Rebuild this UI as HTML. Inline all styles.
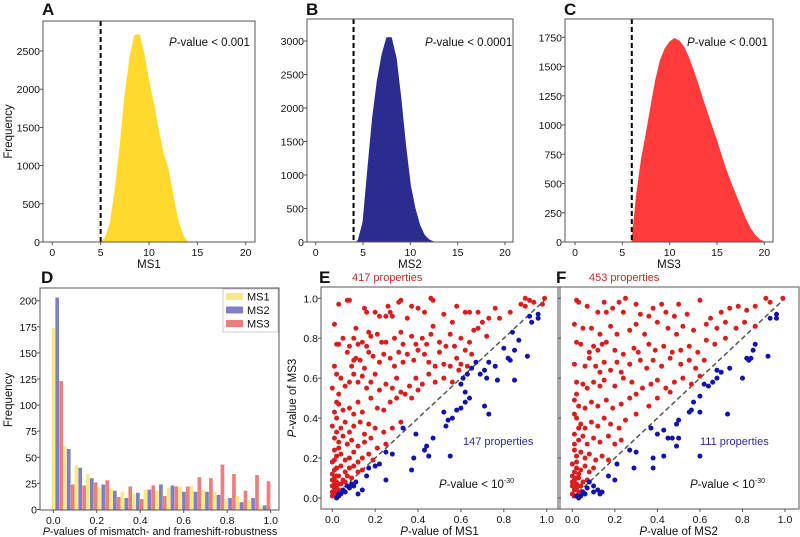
<!DOCTYPE html>
<html><head><meta charset="utf-8"><style>
html,body{margin:0;padding:0;background:#fff;}
svg{display:block;font-family:"Liberation Sans",Arial,sans-serif;}
</style></head><body>
<svg id="fig" width="800" height="537" viewBox="0 0 800 537"></svg>
<script>
// ---- Panel A/B/C data (distribution outlines) ----
const aX = [5,5.5,6,6.5,7,7.5,8,8.5,9,9.5,10,10.5,11,11.5,12,12.5,13,13.5,14];
const aY = [0,60,250,700,1250,1900,2400,2700,2720,2450,2100,1800,1450,1150,950,600,280,90,0];
const bX = [4.3,4.5,5,5.5,6,6.5,7,7.5,8,8.5,9,9.5,10,10.5,11,11.5,12,12.5];
const bY = [0,30,300,1100,1850,2400,2800,3050,3050,2750,2150,1450,850,500,250,100,30,0];
const cX = [6,6.5,7,7.5,8,8.5,9,9.5,10,10.5,11,11.5,12,12.5,13,13.5,14,14.5,15,15.5,16,16.5,17,17.5,18,18.5,19,19.5,20];
const cY = [0,400,700,920,1150,1380,1550,1650,1710,1740,1720,1670,1580,1470,1350,1220,1100,980,860,730,610,500,400,300,200,120,60,20,0];
const aTicksY = [0,500,1000,1500,2000,2500];
const bTicksY = [0,500,1000,1500,2000,2500,3000];
const cTicksY = [0,250,500,750,1000,1250,1500,1750];
const histTicksX = [0,5,10,15,20];
// ---- Panel D data ----
const dBins = [0,1,2,3,4,5,6,7,8,9,10,11,12,13,14,15,16,17,18];
const dMS1 = [174,61,42,34,21,20,17,15,19,18,21,22,23,19,17,10,13,9,3];
const dMS2 = [203,58,40,30,24,18,11,16,19,24,23,17,17,17,14,11,7,11,4];
const dMS3 = [123,24,23,26,28,12,22,10,23,13,22,22,31,30,43,34,18,33,27];
const dTicksY = [0,25,50,75,100,125,150,175,200];
const pTicks = [0,0.2,0.4,0.6,0.8,1.0];
// ---- Panel E data ----
const eRed = [[0.03,0.97],[0.07,0.99],[0.08,0.99],[0.32,0.99],[0.31,0.98],[0.46,1.0],[0.47,0.99],[0.43,0.93],[0.62,0.93],[0.64,0.93],[0.9,1.0],[0.92,0.99],[0.99,1.0],[0.94,0.98],[0.88,0.97],[0.15,0.95],[0.16,0.93],[0.26,0.96],[0.27,0.93],[0.25,0.91],[0.28,0.91],[0.37,0.96],[0.40,0.95],[0.58,0.96],[0.68,0.93],[0.76,0.95],[0.73,0.9],[0.83,0.93],[0.78,0.9],[0.9,0.96],[0.98,0.97],[0.22,0.91],[0.20,0.93],[0.35,0.9],[0.52,0.92],[0.56,0.88],[0.47,0.86],[0.01,0.87],[0.02,0.77],[0.03,0.77],[0.05,0.8],[0.11,0.85],[0.1,0.8],[0.12,0.77],[0.14,0.78],[0.16,0.76],[0.18,0.81],[0.17,0.83],[0.21,0.82],[0.23,0.78],[0.25,0.78],[0.29,0.8],[0.32,0.83],[0.33,0.77],[0.37,0.81],[0.39,0.77],[0.42,0.8],[0.44,0.77],[0.46,0.82],[0.5,0.78],[0.53,0.76],[0.55,0.82],[0.6,0.8],[0.66,0.84],[0.68,0.85],[0.7,0.88],[0.72,0.81],[0.64,0.78],[0.62,0.74],[0.57,0.76],[0.08,0.76],[0.07,0.73],[0.1,0.69],[0.09,0.66],[0.11,0.7],[0.13,0.69],[0.15,0.65],[0.17,0.73],[0.19,0.71],[0.22,0.68],[0.24,0.72],[0.27,0.7],[0.29,0.66],[0.31,0.73],[0.33,0.68],[0.35,0.72],[0.38,0.69],[0.40,0.74],[0.43,0.72],[0.45,0.68],[0.48,0.66],[0.5,0.73],[0.52,0.67],[0.55,0.66],[0.58,0.7],[0.6,0.67],[0.63,0.66],[0.65,0.72],[0.01,0.66],[0.02,0.62],[0.04,0.6],[0.06,0.56],[0.08,0.58],[0.1,0.62],[0.12,0.58],[0.14,0.61],[0.16,0.55],[0.18,0.58],[0.2,0.62],[0.22,0.54],[0.25,0.57],[0.28,0.55],[0.3,0.6],[0.32,0.53],[0.36,0.56],[0.39,0.6],[0.42,0.57],[0.45,0.62],[0.48,0.58],[0.52,0.6],[0.56,0.58],[0.59,0.64],[0.02,0.48],[0.03,0.47],[0.05,0.44],[0.08,0.45],[0.1,0.42],[0.12,0.48],[0.14,0.43],[0.18,0.5],[0.21,0.45],[0.24,0.44],[0.27,0.48],[0.3,0.5],[0.34,0.52],[0.37,0.5],[0.4,0.54],[0.02,0.4],[0.04,0.35],[0.06,0.38],[0.08,0.33],[0.1,0.36],[0.13,0.38],[0.15,0.32],[0.17,0.37],[0.2,0.35],[0.24,0.33],[0.28,0.35],[0.32,0.38],[0.01,0.3],[0.03,0.28],[0.05,0.31],[0.07,0.27],[0.09,0.29],[0.12,0.26],[0.15,0.28],[0.18,0.3],[0.21,0.25],[0.25,0.27],[0.01,0.24],[0.02,0.21],[0.04,0.22],[0.06,0.19],[0.08,0.2],[0.1,0.23],[0.12,0.18],[0.14,0.2],[0.17,0.22],[0.19,0.19],[0.0,0.18],[0.02,0.15],[0.04,0.16],[0.06,0.13],[0.08,0.15],[0.1,0.16],[0.12,0.13],[0.14,0.14],[0.0,0.12],[0.01,0.1],[0.02,0.08],[0.03,0.11],[0.05,0.09],[0.07,0.11],[0.09,0.1],[0.0,0.06],[0.01,0.05],[0.02,0.06],[0.03,0.04],[0.0,0.03],[0.01,0.02],[0.02,0.03],[0.0,0.01],[0.04,0.07],[0.06,0.08],[0.01,0.14],[0.02,0.11],[0.0,0.09],[0.01,0.07],[0.02,0.01],[0.03,0.07],[0.01,0.19],[0.03,0.25],[0.02,0.33],[0.0,0.36],[0.01,0.43],[0.03,0.52],[0.0,0.55]];
const eBlue = [[0.96,0.92],[0.96,0.9],[0.93,0.88],[0.92,0.91],[0.91,0.71],[0.85,0.59],[0.87,0.79],[0.84,0.83],[0.82,0.7],[0.8,0.75],[0.83,0.69],[0.85,0.74],[0.77,0.59],[0.76,0.66],[0.73,0.68],[0.71,0.64],[0.72,0.6],[0.69,0.62],[0.67,0.68],[0.65,0.65],[0.63,0.62],[0.61,0.6],[0.6,0.57],[0.62,0.53],[0.64,0.5],[0.62,0.48],[0.6,0.45],[0.58,0.44],[0.56,0.4],[0.54,0.39],[0.52,0.43],[0.53,0.36],[0.55,0.21],[0.71,0.46],[0.73,0.42],[0.47,0.3],[0.44,0.26],[0.43,0.24],[0.45,0.21],[0.39,0.32],[0.38,0.2],[0.37,0.14],[0.33,0.35],[0.28,0.22],[0.25,0.23],[0.25,0.09],[0.22,0.17],[0.2,0.16],[0.17,0.15],[0.16,0.11],[0.14,0.04],[0.12,0.02],[0.1,0.06],[0.08,0.05],[0.07,0.06],[0.06,0.03],[0.05,0.04],[0.04,0.02],[0.03,0.01],[0.02,0.0],[0.03,0.02],[0.09,0.07],[0.11,0.08]];
// ---- Panel F data ----
const fRed = [[0.02,0.99],[0.03,0.98],[0.07,0.96],[0.12,0.93],[0.15,0.98],[0.16,0.93],[0.19,0.95],[0.22,0.98],[0.25,1.0],[0.24,0.93],[0.3,0.97],[0.32,0.92],[0.36,0.91],[0.38,0.95],[0.42,0.97],[0.44,0.93],[0.5,0.97],[0.48,0.91],[0.54,0.92],[0.6,0.99],[0.65,0.9],[0.7,0.93],[0.74,0.95],[0.78,0.96],[0.82,0.94],[0.86,0.96],[0.91,1.0],[0.93,0.98],[0.99,1.0],[0.01,0.87],[0.05,0.85],[0.09,0.85],[0.13,0.82],[0.18,0.86],[0.21,0.82],[0.27,0.84],[0.3,0.87],[0.34,0.82],[0.4,0.88],[0.45,0.85],[0.49,0.82],[0.52,0.86],[0.57,0.84],[0.63,0.87],[0.68,0.85],[0.72,0.88],[0.77,0.85],[0.81,0.88],[0.86,0.86],[0.02,0.78],[0.04,0.77],[0.08,0.73],[0.1,0.76],[0.12,0.74],[0.14,0.77],[0.16,0.78],[0.2,0.74],[0.24,0.72],[0.29,0.75],[0.31,0.73],[0.36,0.77],[0.39,0.74],[0.43,0.76],[0.47,0.73],[0.51,0.74],[0.55,0.76],[0.59,0.73],[0.63,0.79],[0.67,0.77],[0.72,0.8],[0.01,0.67],[0.06,0.66],[0.08,0.7],[0.11,0.66],[0.13,0.63],[0.15,0.68],[0.18,0.64],[0.21,0.68],[0.23,0.63],[0.27,0.67],[0.32,0.69],[0.35,0.65],[0.38,0.69],[0.42,0.66],[0.46,0.7],[0.51,0.67],[0.55,0.69],[0.58,0.65],[0.62,0.69],[0.02,0.58],[0.05,0.57],[0.07,0.55],[0.1,0.58],[0.13,0.56],[0.15,0.59],[0.2,0.56],[0.24,0.6],[0.28,0.58],[0.33,0.55],[0.37,0.57],[0.4,0.59],[0.44,0.55],[0.48,0.58],[0.52,0.6],[0.56,0.57],[0.6,0.61],[0.01,0.49],[0.03,0.46],[0.06,0.45],[0.09,0.48],[0.12,0.46],[0.16,0.49],[0.19,0.45],[0.23,0.47],[0.27,0.5],[0.3,0.52],[0.36,0.46],[0.4,0.5],[0.46,0.53],[0.02,0.4],[0.04,0.37],[0.06,0.35],[0.09,0.38],[0.12,0.36],[0.15,0.4],[0.18,0.37],[0.22,0.35],[0.25,0.39],[0.3,0.42],[0.01,0.32],[0.03,0.29],[0.05,0.31],[0.07,0.27],[0.1,0.3],[0.13,0.28],[0.17,0.31],[0.2,0.27],[0.23,0.29],[0.01,0.24],[0.02,0.21],[0.04,0.23],[0.06,0.2],[0.08,0.22],[0.11,0.19],[0.14,0.21],[0.17,0.19],[0.0,0.17],[0.02,0.15],[0.04,0.14],[0.06,0.16],[0.08,0.13],[0.1,0.15],[0.0,0.11],[0.01,0.09],[0.03,0.1],[0.05,0.08],[0.07,0.09],[0.0,0.06],[0.01,0.04],[0.02,0.05],[0.03,0.03],[0.0,0.02],[0.01,0.01],[0.04,0.06],[0.01,0.13],[0.02,0.1],[0.0,0.08],[0.02,0.18],[0.01,0.27],[0.03,0.35],[0.01,0.42],[0.02,0.52],[0.03,0.12],[0.02,0.07]];
const fBlue = [[0.96,0.92],[0.93,0.9],[0.96,0.9],[0.92,0.71],[0.86,0.77],[0.85,0.74],[0.84,0.7],[0.82,0.7],[0.83,0.69],[0.8,0.6],[0.74,0.65],[0.7,0.63],[0.68,0.64],[0.68,0.6],[0.66,0.58],[0.64,0.56],[0.62,0.57],[0.6,0.51],[0.57,0.48],[0.56,0.44],[0.55,0.43],[0.6,0.43],[0.73,0.42],[0.5,0.39],[0.49,0.37],[0.5,0.3],[0.47,0.3],[0.49,0.26],[0.45,0.3],[0.43,0.34],[0.4,0.32],[0.37,0.35],[0.6,0.21],[0.43,0.21],[0.38,0.2],[0.38,0.15],[0.3,0.23],[0.27,0.24],[0.21,0.17],[0.2,0.09],[0.17,0.11],[0.14,0.03],[0.12,0.04],[0.13,0.02],[0.1,0.06],[0.08,0.08],[0.07,0.05],[0.06,0.02],[0.05,0.03],[0.04,0.01],[0.03,0.0],[0.02,0.01],[0.29,0.15],[0.1,0.03]];

const NS = 'http://www.w3.org/2000/svg';
const svg = document.getElementById('fig');
function mk(tag, attrs, parent) {
  const e = document.createElementNS(NS, tag);
  for (const k in attrs) e.setAttribute(k, attrs[k]);
  (parent || svg).appendChild(e);
  return e;
}
function txt(s, x, y, size, anchor, parent, extra) {
  const t = mk('text', Object.assign({x:x, y:y, 'font-size':size, 'text-anchor':anchor||'start', fill:'#111'}, extra||{}), parent);
  t.textContent = s;
  return t;
}
function lin(d0, d1, r0, r1) { return v => r0 + (v - d0) / (d1 - d0) * (r1 - r0); }

function frame(g, L, T, R, B) {
  const r = mk('rect', {x:L, y:T, width:R-L, height:B-T, fill:'none', stroke:'#555', 'stroke-width':1}, g);
  
  
}
function yTicks(g, ticks, sy, L, fmt) {
  ticks.forEach(v => {
    const y = sy(v);
    mk('line', {x1:L-3, x2:L, y1:y, y2:y, stroke:'#555'}, g);
    const t = txt(fmt ? fmt(v) : String(v), L-3, y+4, 10.5, 'end', g);
    
    
  });
}
function xTicks(g, ticks, sx, B, fmt) {
  ticks.forEach(v => {
    const x = sx(v);
    mk('line', {x1:x, x2:x, y1:B, y2:B+3, stroke:'#555'}, g);
    const t = txt(fmt ? fmt(v) : String(v), x, B+14, 10.5, 'middle', g);
    
    
  });
}
function panelLetter(g, s, x, y) {
  const t = txt(s, x, y, 17, 'start', g, {'font-weight':'bold'});
  
  
}
function pvalText(g, x, y, rest, sup) {
  const t = mk('text', {x:x, y:y, 'font-size':11.5, fill:'#111'}, g);
  
  
  const i = mk('tspan', {'font-style':'italic'}, t); i.textContent = 'P';
  const r = mk('tspan', {}, t); r.textContent = rest;
  if (sup) { const s = mk('tspan', {'font-size':7, dy:-5}, t); s.textContent = sup; }
}

function histPanel(name, letter, xs, ys, color, L, T, R, B, x0, x20, yTop, yTopVal, ticksY, cutoff, pv, xlab, lx, showFreq) {
  const g = mk('g', {});
  
  
  const sx = lin(0, 20, x0, x20);
  const sy = lin(0, yTopVal, B, yTop);
  let d = 'M' + sx(xs[0]) + ',' + sy(0);
  xs.forEach((v, i) => { d += ' L' + sx(v).toFixed(1) + ',' + sy(ys[i]).toFixed(1); });
  d += ' L' + sx(xs[xs.length-1]) + ',' + sy(0) + ' Z';
  const p = mk('path', {d:d, fill:color, stroke:color, 'stroke-width':0.8, 'stroke-linejoin':'round'}, g);
  
  
  const cl = mk('line', {x1:sx(cutoff), x2:sx(cutoff), y1:T, y2:B, stroke:'#000', 'stroke-width':2, 'stroke-dasharray':'5,3'}, g);
  
  
  frame(g, L, T, R, B);
  yTicks(g, ticksY, sy, L);
  xTicks(g, histTicksX, sx, B);
  const xl = txt(xlab, (L+R)/2, B+26, 11.5, 'middle', g);
  
  
  if (showFreq) {
    const fy = txt('Frequency', 12, (T+B)/2, 11.5, 'middle', g, {transform:'rotate(-90 12 ' + ((T+B)/2) + ')'});
    
    
  }
  pvalText(g, lx, 46, '-value < ' + pv);
  panelLetter(g, letter, L-1, 15);
}
histPanel('panel-a-ms1-histogram', 'A', aX, aY, '#FFD92E', 43, 21, 255, 242, 52.3, 245.7, 51, 2500, aTicksY, 5, '0.001', 'MS1', 169, true);
histPanel('panel-b-ms2-histogram', 'B', bX, bY, '#2B2C8E', 307, 19, 513, 242, 315.7, 505, 41, 3000, bTicksY, 4, '0.0001', 'MS2', 425, false);
histPanel('panel-c-ms3-histogram', 'C', cX, cY, '#FF3B3B', 565, 19, 773, 242, 575, 764.3, 37.3, 1750, cTicksY, 6, '0.001', 'MS3', 687, false);

(function(){
  const g = mk('g', {});
  
  
  const L = 40, T = 288, R = 279, B = 510;
  const sx = lin(0, 1, 53.3, 270.7);
  const sy = lin(0, 200, 509.5, 300.7);
  const step = 0.053, bw = 0.017;
  const series = [[dMS1,'#F7E98A','ms1'],[dMS2,'#7F7FC4','ms2'],[dMS3,'#EE7E7E','ms3']];
  dBins.forEach((b, i) => {
    series.forEach((s, k) => {
      const c = b*step + k*0.018;
      const x1 = sx(c - bw/2), x2 = sx(c + bw/2);
      const r = mk('rect', {x:x1, y:sy(s[0][i]), width:x2-x1, height:sy(0)-sy(s[0][i]), fill:s[1]}, g);
      
      
    });
  });
  frame(g, L, T, R, B);
  yTicks(g, dTicksY, sy, L);
  xTicks(g, pTicks, sx, B, v => v.toFixed(1));
  const fy = txt('Frequency', 12, 400, 11.5, 'middle', g, {transform:'rotate(-90 12 400)'});
  
  
  const xl = mk('text', {x:160, y:535, 'font-size':10.8, 'text-anchor':'middle', fill:'#111'}, g);
  
  
  const it = mk('tspan', {'font-style':'italic'}, xl); it.textContent = 'P';
  const rs = mk('tspan', {}, xl); rs.textContent = '-values of mismatch- and frameshift-robustness';
  const lg = mk('g', {}, g);
  
  
  mk('rect', {x:223, y:289, width:55, height:43, fill:'#fff', stroke:'#ccc'}, lg);
  series.forEach((s, k) => {
    const y = 293 + k*13.5;
    mk('rect', {x:226, y:y, width:17, height:7, fill:s[1]}, lg);
    const t = txt(s[2].toUpperCase(), 247, y+7.5, 11, 'start', lg);
    
    
  });
  panelLetter(g, 'D', 41, 283);
})();

function scatterPanel(name, letter, red, blue, L, R, x0, x1, xlab, ylabShow, redLbl, redX, blueLbl, blueX, pvX) {
  const g = mk('g', {});
  
  
  const T = 287, B = 509;
  const sx = lin(0, 1, x0, x1);
  const sy = lin(0, 1, 498, 298.3);
  const dl = mk('line', {x1:sx(0), y1:sy(0), x2:sx(1), y2:sy(1), stroke:'#555', 'stroke-width':1.5, 'stroke-dasharray':'5,3'}, g);
  
  
  red.forEach(p => {
    const c = mk('circle', {cx:sx(p[0]), cy:sy(p[1]), r:2.5, fill:'#DA1D1D'}, g);
    
    
  });
  blue.forEach(p => {
    const c = mk('circle', {cx:sx(p[0]), cy:sy(p[1]), r:2.5, fill:'#1212B0'}, g);
    
    
  });
  frame(g, L, T, R, B);
  if (ylabShow) {
    yTicks(g, pTicks, sy, L, v => v.toFixed(1));
    const yl = mk('text', {x:0, y:0, 'font-size':11.5, 'text-anchor':'middle', fill:'#111', transform:'translate(296 398) rotate(-90)'}, g);
    
    
    const a = mk('tspan', {'font-style':'italic'}, yl); a.textContent = 'P';
    const b = mk('tspan', {}, yl); b.textContent = '-value of MS3';
  } else {
    pTicks.forEach(v => mk('line', {x1:L, x2:L+3, y1:sy(v), y2:sy(v), stroke:'#555'}, g));
  }
  xTicks(g, pTicks, sx, B, v => v.toFixed(1));
  const xl = mk('text', {x:(x0+x1)/2, y:535, 'font-size':11.5, 'text-anchor':'middle', fill:'#111'}, g);
  
  
  const a = mk('tspan', {'font-style':'italic'}, xl); a.textContent = 'P';
  const b = mk('tspan', {}, xl); b.textContent = '-value of ' + xlab;
  const rl = txt(redLbl, redX, 281, 11, 'start', g, {fill:'#C8262B'});
  
  
  const bl = txt(blueLbl, blueX, 445, 11, 'start', g, {fill:'#2A2AA0'});
  
  
  pvalText(g, pvX, 488, '-value < 10', '-30');
  panelLetter(g, letter, L-2, 283);
}
scatterPanel('panel-e-ms1-vs-ms3', 'E', eRed, eBlue, 321, 560, 332.3, 546.7, 'MS1', true, '417 properties', 352, '147 properties', 463, 439);
scatterPanel('panel-f-ms2-vs-ms3', 'F', fRed, fBlue, 558, 799, 572.3, 785, 'MS2', false, '453 properties', 589, '111 properties', 700, 690);
</script>
</body></html>
